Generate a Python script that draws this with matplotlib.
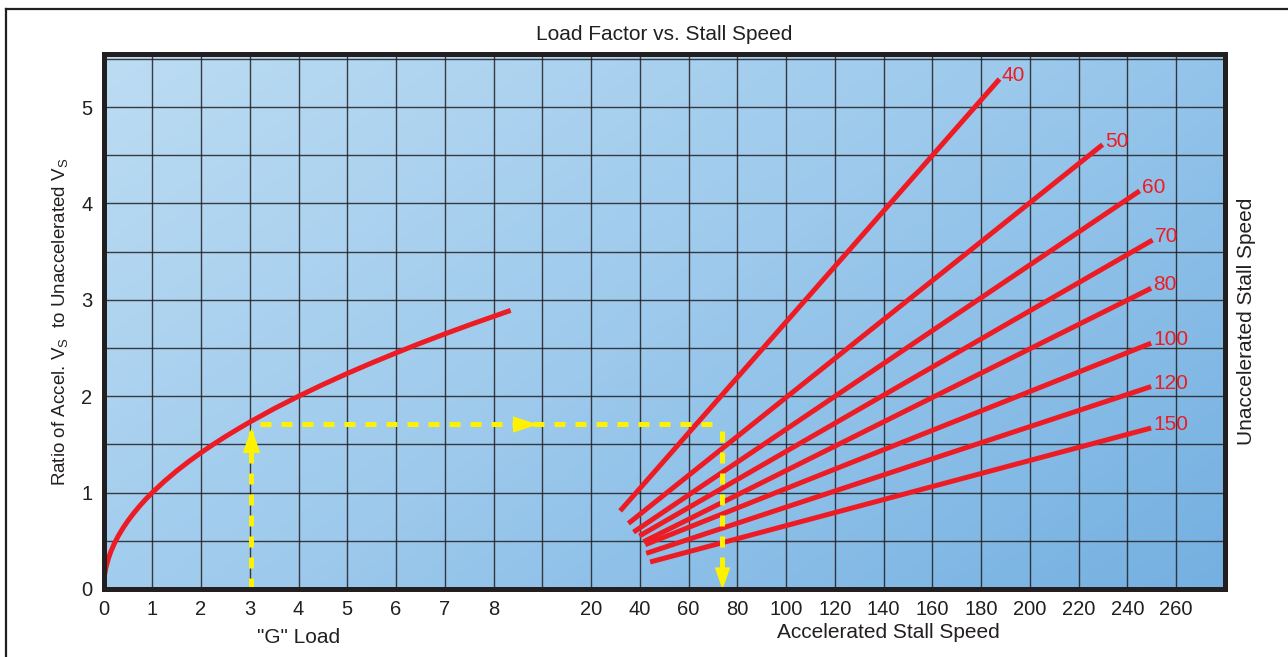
import numpy as np
import matplotlib
matplotlib.use('Agg')
import matplotlib.pyplot as plt
from matplotlib.colors import LinearSegmentedColormap
from matplotlib.lines import Line2D

plt.rcParams['font.family'] = ['Liberation Sans', 'DejaVu Sans']

# ---- dados ----
# curva "G" load -> razão Vs acelerado / Vs normal
g_load = [0, 0.01, 0.025, 0.05, 0.1, 0.15, 0.22, 0.3, 0.4, 0.5, 0.62, 0.75, 0.87, 1, 1.25, 1.5, 1.75,
          2, 2.25, 2.5, 2.75, 3, 3.5, 4, 4.5, 5, 5.5, 6, 6.5, 7, 7.5, 8, 8.35]
g_ratio = [0, 0.100, 0.158, 0.224, 0.316, 0.387, 0.469, 0.548, 0.632, 0.707, 0.787, 0.866, 0.933,
           1.0, 1.118, 1.225, 1.323, 1.414, 1.5, 1.581, 1.658, 1.732, 1.871, 2.0, 2.121, 2.236,
           2.345, 2.449, 2.55, 2.646, 2.739, 2.828, 2.89]

# retas de velocidade de estol (inicio / fim em velocidade acelerada e razão)
stall_speeds = [40, 50, 60, 70, 80, 100, 120, 150]
speed_start = [31.9, 35.3, 37.4, 39.8, 41.5, 42.2, 42.6, 44.2]
speed_end = [187.5, 229.8, 245.0, 250.3, 249.7, 249.7, 249.7, 249.7]
ratio_start = [0.81, 0.68, 0.59, 0.55, 0.49, 0.46, 0.37, 0.28]
ratio_end = [5.29, 4.61, 4.13, 3.62, 3.12, 2.55, 2.10, 1.67]

# exemplo (linha amarela): 3 G -> razão 1.71 -> 73.5 nós
ex_g = 3.02
ex_ratio = 1.71
ex_speed = 73.5

g_ticks = [0, 1, 2, 3, 4, 5, 6, 7, 8]
speed_ticks = [20, 40, 60, 80, 100, 120, 140, 160, 180, 200, 220, 240, 260]


def speed_to_x(v):
    # escala de velocidade compartilha o eixo x: 20 kt -> 10, 20 kt por divisão
    return np.asarray(v) / 20.0 + 9


RED = '#ed1c24'
YEL = '#fff200'
DARK = '#231f20'

fig = plt.figure(figsize=(12.88, 6.57), dpi=100)
ax = fig.add_axes([103.5 / 1288, 1 - 589 / 657, (1225 - 103.5) / 1288, (589 - 54) / 657])

ax.set_xlim(0, 23)
ax.set_ylim(0, 5.55)

# fundo em degradê diagonal
cmap = LinearSegmentedColormap.from_list('bg', ['#bcdcf3', '#9cc9ec', '#74b0e1'])
gx, gy = np.meshgrid(np.linspace(0, 1, 300), np.linspace(0, 1, 200))
grad = (gx * 0.75 + gy * 0.5)
ax.imshow(grad, cmap=cmap, extent=[0, 23, 0, 5.55], aspect='auto', origin='upper', zorder=0)

# grade
for xv in range(0, 24):
    ax.axvline(xv, color=DARK, lw=1.0, alpha=0.85, zorder=1)
for yv in np.arange(0, 5.6, 0.5):
    ax.axhline(yv, color=DARK, lw=1.0, alpha=0.85, zorder=1)

# curva G
ax.plot(g_load, g_ratio, color=RED, lw=3.6, solid_capstyle='butt', solid_joinstyle='round', zorder=3)

# retas de estol
for vs, v0, v1, r0, r1 in zip(stall_speeds, speed_start, speed_end, ratio_start, ratio_end):
    ax.plot(speed_to_x([v0, v1]), [r0, r1], color=RED, lw=3.6, solid_capstyle='butt', zorder=3)
    ax.annotate(str(vs), (speed_to_x(v1), r1), xytext=(1.5, 2.5), textcoords='offset points',
                color=RED, fontsize=15, va='center', ha='left', zorder=5)

# linha amarela tracejada do exemplo
xs = speed_to_x(ex_speed)
ypath = dict(color=YEL, lw=3.6, dashes=(2.2, 2.0), zorder=4)
ax.plot([ex_g, ex_g], [0, ex_ratio], **ypath)
ax.plot([ex_g + 0.18, xs], [ex_ratio, ex_ratio], **ypath)
ax.plot([xs, xs], [ex_ratio - 0.07, 0.2], **ypath)

tri_up = [(0, 1), (-0.7, -1), (0.7, -1)]
tri_right = [(1, 0), (-1, 0.65), (-1, -0.65)]
tri_down = [(0, -1), (-0.7, 1), (0.7, 1)]
ax.plot([ex_g], [ex_ratio - 0.16], marker=tri_up, ms=18, color=YEL, mec='none', zorder=5)
ax.plot([8.65], [ex_ratio], marker=tri_right, ms=18, color=YEL, mec='none', zorder=5)
ax.plot([xs], [0.11], marker=tri_down, ms=16, color=YEL, mec='none', zorder=5, clip_on=False)

# eixos
ax.set_xticks(list(g_ticks) + list(speed_to_x(speed_ticks)))
ax.set_xticklabels([str(t) for t in g_ticks] + [str(t) for t in speed_ticks])
ax.set_yticks([0, 1, 2, 3, 4, 5])
ax.tick_params(length=0, labelsize=14.5, colors=DARK, pad=8)
for s in ax.spines.values():
    s.set_linewidth(3.6)
    s.set_color(DARK)
    s.set_zorder(6)

ax.set_title('Load Factor vs. Stall Speed', fontsize=15, color=DARK, pad=10)
ax.set_ylabel(r'Ratio of Accel. V$_\mathregular{S}$  to Unaccelerated V$_\mathregular{S}$',
              fontsize=13.5, color=DARK, labelpad=7)
ax.text(4.0, -0.5, '"G" Load', ha='center', va='center', fontsize=15, color=DARK)
ax.text(speed_to_x(142), -0.45, 'Accelerated Stall Speed', ha='center', va='center',
        fontsize=15, color=DARK)
ax.text(1.019, 0.5, 'Unaccelerated Stall Speed', transform=ax.transAxes, rotation=90,
        ha='center', va='center', fontsize=15, color=DARK)

# moldura externa
fig.add_artist(Line2D([6 / 1288, 1], [1 - 9 / 657, 1 - 9 / 657], color=DARK, lw=1.6))
fig.add_artist(Line2D([6 / 1288, 6 / 1288], [0, 1 - 9 / 657], color=DARK, lw=1.6))

fig.savefig('out.png', dpi=100)
